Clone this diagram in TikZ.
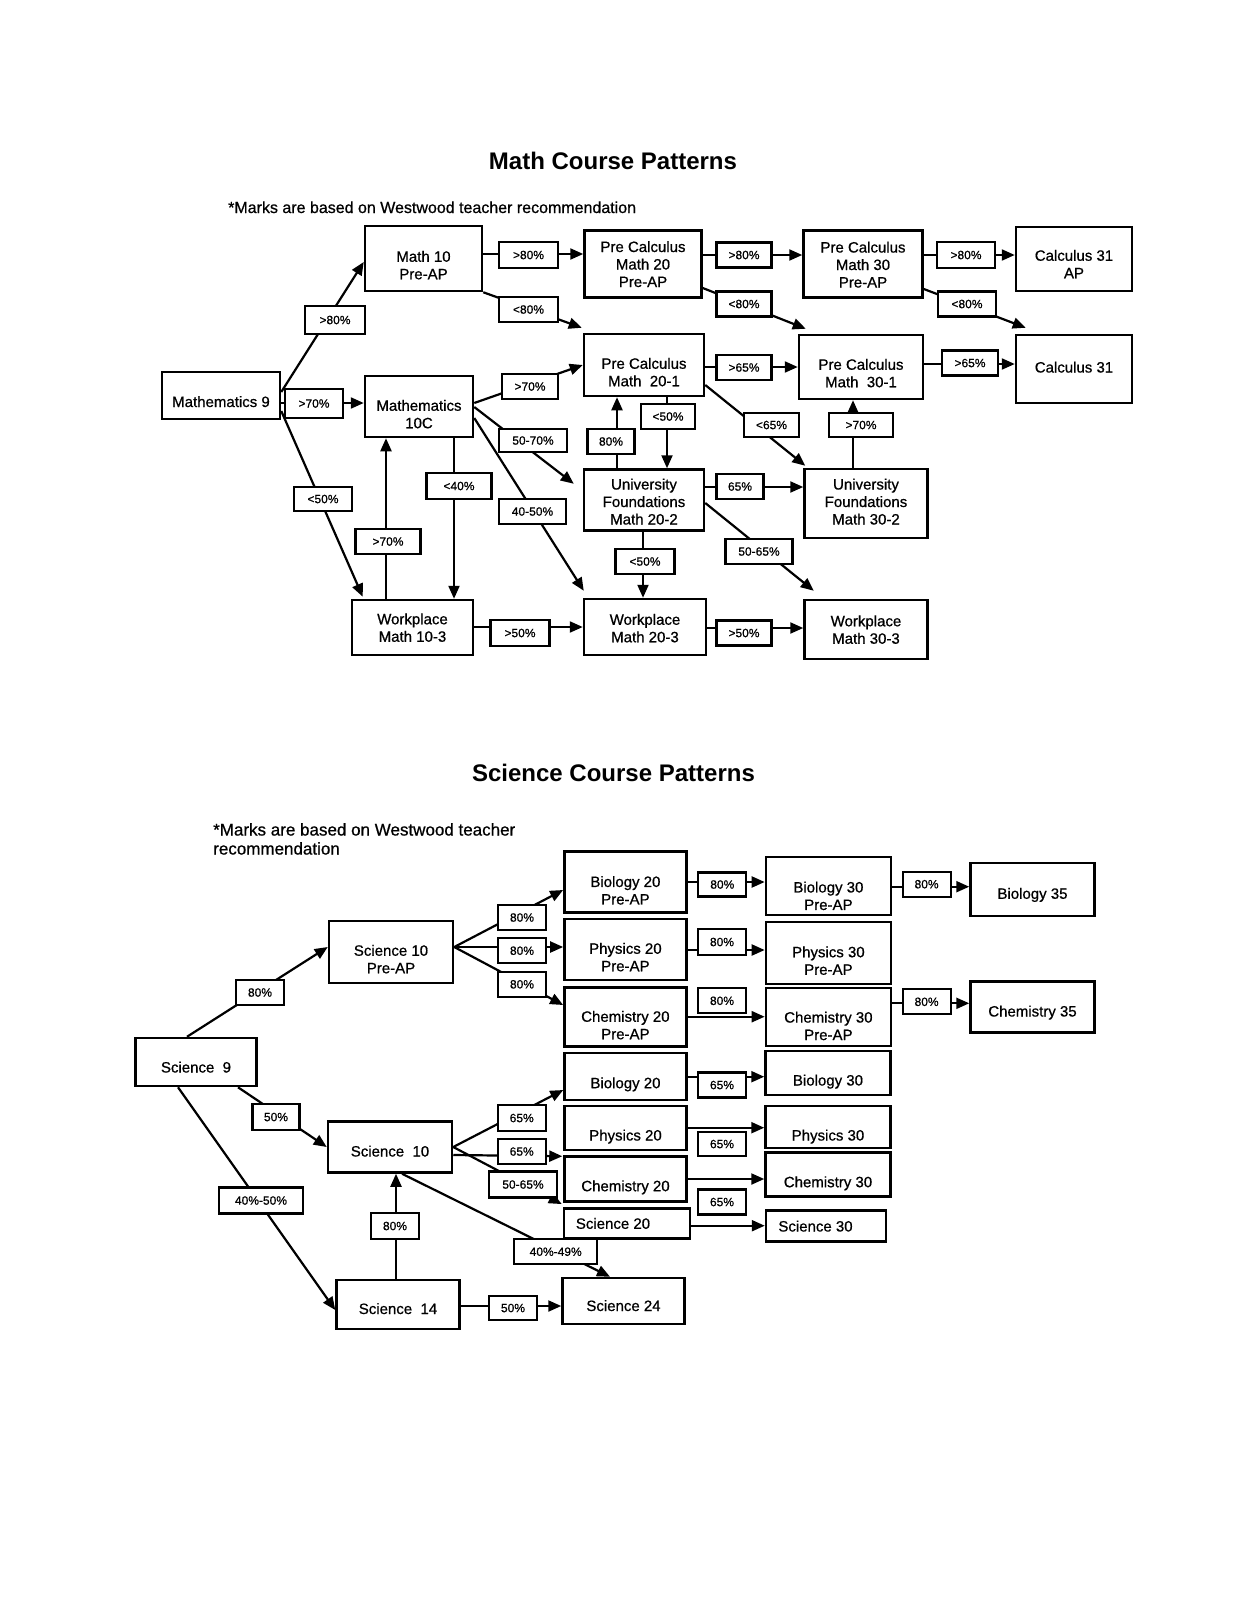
\documentclass[tikz,border=0pt]{standalone}
\usepackage{fontspec}
\setmainfont{Liberation Sans}
\newfontfamily\scanfont{Liberation Sans}[FakeBold=0.7]
\usetikzlibrary{arrows.meta}
\newcommand{\dn}[2]{\raisebox{-#1pt}[\height][\depth]{\begin{tabular}{@{}c@{}}#2\end{tabular}}}
\begin{document}
\begin{tikzpicture}[x=1pt,y=-1pt,
  box/.style={draw, line width=2.5pt, inner sep=0pt, font=\scanfont\fontsize{15}{17.5}\selectfont},
  sz/.style 2 args={minimum width=#1pt, minimum height=#2pt},
  lbl/.style={draw, line width=2.1pt, fill=white, inner sep=0pt, minimum height=25pt, font=\scanfont\fontsize{12}{14}\selectfont},
  conn/.style={line width=2.2pt, -{Triangle[length=13pt,width=11pt]}},
  ttl/.style={font=\fontsize{24}{28}\selectfont\bfseries, inner sep=0pt},
]
\fill[white] (0,0) rectangle (1239,1600);
\useasboundingbox (0,0) rectangle (1239,1600);

% ---------------- Math ----------------
\node[ttl, anchor=base] (mt) at (613,169) {Math Course Patterns};
\node[anchor=base west, inner sep=0pt, font=\scanfont\fontsize{16}{19}\selectfont] (mn) at (228,213) {*Marks are based on Westwood teacher recommendation};

\node[box, sz={118}{47}] (m9) at (221,395.5) {\dn{8}{Mathematics 9}};
\node[box, sz={117}{65}] (m10pa) at (423.5,258.5) {\dn{8.5}{Math 10\\Pre-AP}};
\node[box, sz={108}{61}] (m10c) at (419,406.5) {\dn{9.5}{Mathematics\\10C}};
\node[box, sz={117}{67}] (pc20pa) at (643,264) {\dn{2}{Pre Calculus\\Math 20\\Pre-AP}};
\node[box, sz={119}{67}] (pc30pa) at (863,264) {\dn{2.5}{Pre Calculus\\Math 30\\Pre-AP}};
\node[box, sz={116}{64}] (c31ap) at (1074,259) {\dn{7}{Calculus 31\\AP}};
\node[box, sz={120}{62}] (pc201) at (644,365) {\dn{9}{Pre Calculus\\Math\ \ 20-1}};
\node[box, sz={124}{64}] (pc301) at (861,367) {\dn{8}{Pre Calculus\\Math\ \ 30-1}};
\node[box, sz={116}{68}] (c31) at (1074,369) {\dn{0}{Calculus 31}};
\node[box, sz={120}{61}] (uf202) at (644,500) {\dn{3.5}{University\\Foundations\\Math 20-2}};
\node[box, sz={123}{69}] (uf302) at (866,503.5) {\dn{0}{University\\Foundations\\Math 30-2}};
\node[box, sz={121}{55}] (w103) at (412.5,627.5) {\dn{2}{Workplace\\Math 10-3}};
\node[box, sz={122}{56}] (w203) at (645,627) {\dn{3}{Workplace\\Math 20-3}};
\node[box, sz={123}{59}] (w303) at (866,629.5) {\dn{2}{Workplace\\Math 30-3}};

\draw[conn] (m9.east |- 0,392) -- (m10pa.west |- 0,262);
\draw[conn] (m9.east |- 0,403) -- (m10c.west |- 0,403);
\draw[conn] (m9.east |- 0,411) -- ([shift={(12,-2)}]w103.north west);
\draw[conn] (m10pa.east |- 0,254) -- (pc20pa.west |- 0,254);
\draw[conn] (m10pa.south east) -- ([shift={(-1,-5)}]pc201.north west);
\draw[conn] (m10c.east |- 0,403) -- (pc201.west |- 0,365);
\draw[conn] (m10c.east |- 0,407) -- ([shift={(-9,15.5)}]uf202.north west);
\draw[conn] (m10c.east |- 0,418) -- ([shift={(1,-7)}]w203.north west);
\draw[conn] (w103.north -| 386,0) -- (m10c.south -| 386,0);
\draw[conn] (m10c.south -| 454,0) -- (w103.north -| 454,0);
\draw[conn] (w103.east |- 0,627) -- (w203.west |- 0,627);
\draw[conn] (uf202.north -| 617,0) -- (pc201.south -| 617,0);
\draw[conn] (pc201.south -| 667,0) -- (uf202.north -| 667,0);
\draw[conn] (uf202.south -| 643,0) -- (w203.north -| 643,0);
\draw[conn] (pc20pa.east |- 0,255) -- (pc30pa.west |- 0,255);
\draw[conn] (pc20pa.east |- 0,288) -- ([shift={(8,-5)}]pc301.north west);
\draw[conn] (pc201.east |- 0,367) -- (pc301.west |- 0,367);
\draw[conn] (pc201.east |- 0,385) -- ([shift={(2,-2)}]uf302.north west);
\draw[conn] (uf302.north -| 853,0) -- (pc301.south -| 853,0);
\draw[conn] (uf202.east |- 0,487) -- (uf302.west |- 0,487);
\draw[conn] (uf202.east |- 0,503) -- ([shift={(10.5,-8)}]w303.north west);
\draw[conn] (w203.east |- 0,628) -- (w303.west |- 0,628);
\draw[conn] (pc30pa.east |- 0,255) -- (c31ap.west |- 0,255);
\draw[conn] (pc30pa.east |- 0,289) -- ([shift={(11,-6)}]c31.north west);
\draw[conn] (pc301.east |- 0,364) -- (c31.west |- 0,364);

\node[lbl, minimum width=60pt, minimum height=28pt] (l1) at (335,320) {>80\%};
\node[lbl, minimum width=58pt, minimum height=29pt] (l2) at (314,403.5) {>70\%};
\node[lbl, minimum width=58pt, minimum height=24pt] (l3) at (323,499) {<50\%};
\node[lbl, minimum width=59pt, minimum height=26pt] (l4) at (528.5,255) {>80\%};
\node[lbl, minimum width=59pt] (l5) at (528.5,309.5) {<80\%};
\node[lbl, minimum width=56pt] (l6) at (530,386.5) {>70\%};
\node[lbl, minimum width=68pt, minimum height=23pt] (l7) at (533,440.5) {50-70\%};
\node[lbl, minimum width=67pt] (l8) at (532.5,511.5) {40-50\%};
\node[lbl, minimum width=65pt] (l9) at (388,541.5) {>70\%};
\node[lbl, minimum width=65pt, minimum height=26pt] (l10) at (459,486) {<40\%};
\node[lbl, minimum width=59pt, minimum height=26pt] (l11) at (520,633) {>50\%};
\node[lbl, minimum width=47pt] (l12) at (611,441.5) {80\%};
\node[lbl, minimum width=54pt] (l13) at (668,416.5) {<50\%};
\node[lbl, minimum width=59pt] (l14) at (645,561.5) {<50\%};
\node[lbl, minimum width=55pt] (l15) at (744,255) {>80\%};
\node[lbl, minimum width=55pt] (l16) at (744,304) {<80\%};
\node[lbl, minimum width=55pt] (l17) at (744,367.5) {>65\%};
\node[lbl, minimum width=55pt, minimum height=24pt] (l18) at (771.5,425) {<65\%};
\node[lbl, minimum width=47pt] (l19) at (740,486.5) {65\%};
\node[lbl, minimum width=67pt] (l20) at (759,551.5) {50-65\%};
\node[lbl, minimum width=55pt] (l21) at (744,633) {>50\%};
\node[lbl, minimum width=58pt, minimum height=26pt] (l22) at (966,255) {>80\%};
\node[lbl, minimum width=58pt] (l23) at (967,304) {<80\%};
\node[lbl, minimum width=56pt] (l24) at (970,363) {>65\%};
\node[lbl, minimum width=64pt, minimum height=24pt] (l25) at (861,425) {>70\%};

% ---------------- Science ----------------
\node[ttl, anchor=base] (st) at (613.5,781) {Science Course Patterns};
\node[anchor=north west, align=left, inner sep=0pt, font=\scanfont\fontsize{17}{19}\selectfont] (sn) at (213,823) {*Marks are based on Westwood teacher\\recommendation};

\node[box, sz={121}{48}] (s9) at (196,1062) {\dn{7}{Science\ \ 9}};
\node[box, sz={124}{62}] (s10pa) at (391,952) {\dn{9}{Science 10\\Pre-AP}};
\node[box, sz={124}{51}] (s10) at (390,1147) {\dn{6}{Science\ \ 10}};
\node[box, sz={123}{49}] (s14) at (398,1304.5) {\dn{6}{Science\ \ 14}};
\node[box, sz={122}{46}] (s24) at (623.5,1301) {\dn{6.5}{Science 24}};
\node[box, sz={122}{61}] (bio20pa) at (625.4,882.2) {\dn{10}{Biology 20\\Pre-AP}};
\node[box, sz={122}{61}] (phys20pa) at (625.4,949.5) {\dn{9.5}{Physics 20\\Pre-AP}};
\node[box, sz={122}{59}] (chem20pa) at (625.4,1017) {\dn{10}{Chemistry 20\\Pre-AP}};
\node[box, sz={125}{58}] (bio30pa) at (828.4,886.2) {\dn{11.5}{Biology 30\\Pre-AP}};
\node[box, sz={125}{62}] (phys30pa) at (828.4,952.8) {\dn{9.7}{Physics 30\\Pre-AP}};
\node[box, sz={125}{58}] (chem30pa) at (828.4,1017) {\dn{10.8}{Chemistry 30\\Pre-AP}};
\node[box, sz={124}{53}] (bio35) at (1032.5,889.7) {\dn{5.6}{Biology 35}};
\node[box, sz={124}{51}] (chem35) at (1032.5,1007) {\dn{6}{Chemistry 35}};
\node[box, sz={122}{47}] (bio20) at (625.5,1076.7) {\dn{8}{Biology 20}};
\node[box, sz={122}{44}] (phys20) at (625.5,1128) {\dn{9}{Physics 20}};
\node[box, sz={122}{45}] (chem20) at (625.5,1179) {\dn{8.7}{Chemistry 20}};
\node[box, sz={126}{30}] (sci20) at (627,1223.3) {\dn{2}{Science 20\hspace*{28pt}}};
\node[box, sz={125}{44}] (bio30) at (828,1073) {\dn{9}{Biology 30}};
\node[box, sz={125}{42}] (phys30) at (828,1127) {\dn{10}{Physics 30}};
\node[box, sz={125}{44}] (chem30) at (828,1174.7) {\dn{9}{Chemistry 30}};
\node[box, sz={120}{31}] (sci30) at (826,1226) {\dn{2}{Science 30\hspace*{21pt}}};

\draw[conn] (s9.north -| 187,0) -- (s10pa.west |- 0,947);
\draw[conn] (s9.south -| 238,0) -- (s10.west |- 0,1147);
\draw[conn] (s9.south -| 178,0) -- (s14.west |- 0,1310);
\draw[conn] (s14.north -| 396,0) -- (s10.south -| 396,0);
\draw[conn] (s10.south -| 402,0) -- (s24.north -| 610,0);
\draw[conn] (s14.east |- 0,1306) -- (s24.west |- 0,1306);
\draw[conn] (s10pa.east |- 0,947) -- (bio20pa.west |- 0,890);
\draw[conn] (s10pa.east |- 0,947) -- (phys20pa.west |- 0,947);
\draw[conn] (s10pa.east |- 0,947) -- (chem20pa.west |- 0,1005);
\draw[conn] (s10.east |- 0,1147) -- (bio20.west |- 0,1090);
\draw[conn] (s10.east |- 0,1155) -- ([shift={(-1,5)}]phys20.south west);
\draw[conn] (s10.east |- 0,1147) -- ([shift={(-1,-3)}]sci20.north west);
\draw[conn] (bio20pa.east |- 0,882) -- (bio30pa.west |- 0,882);
\draw[conn] (phys20pa.east |- 0,950) -- (phys30pa.west |- 0,950);
\draw[conn] (chem20pa.east |- 0,1016.7) -- (chem30pa.west |- 0,1016.7);
\draw[conn] (bio30pa.east |- 0,886.7) -- (bio35.west |- 0,886.7);
\draw[conn] (chem30pa.east |- 0,1003.3) -- (chem35.west |- 0,1003.3);
\draw[conn] (bio20.east |- 0,1076.7) -- (bio30.west |- 0,1076.7);
\draw[conn] (phys20.east |- 0,1127.7) -- (phys30.west |- 0,1127.7);
\draw[conn] (chem20.east |- 0,1179) -- (chem30.west |- 0,1179);
\draw[conn] (sci20.east |- 0,1225.7) -- (sci30.west |- 0,1225.7);

\node[lbl, minimum width=48pt] (sl1) at (260,992.5) {80\%};
\node[lbl, minimum width=47pt, minimum height=26pt] (sl2) at (276,1117) {50\%};
\node[lbl, minimum width=84pt, minimum height=26pt] (sl3) at (261,1200.5) {40\%-50\%};
\node[lbl, minimum width=48pt, minimum height=26pt] (sl4) at (395,1226) {80\%};
\node[lbl, minimum width=83pt] (sl5) at (555.7,1251.7) {40\%-49\%};
\node[lbl, minimum width=48pt, minimum height=24pt] (sl6) at (513,1308) {50\%};
\node[lbl, minimum width=48pt] (sl7) at (522,917.5) {80\%};
\node[lbl, minimum width=48pt] (sl8) at (522,950.7) {80\%};
\node[lbl, minimum width=48pt] (sl9) at (522,984.3) {80\%};
\node[lbl, minimum width=48pt, minimum height=26pt] (sl10) at (521.7,1118) {65\%};
\node[lbl, minimum width=48pt] (sl11) at (521.7,1151.5) {65\%};
\node[lbl, minimum width=68pt, minimum height=26pt] (sl12) at (523,1184.5) {50-65\%};
\node[lbl, minimum width=48pt, minimum height=24pt] (sl13) at (722.3,884.5) {80\%};
\node[lbl, minimum width=48pt, minimum height=26pt] (sl14) at (722,942) {80\%};
\node[lbl, minimum width=48pt] (sl15) at (722,1000.8) {80\%};
\node[lbl, minimum width=48pt] (sl16) at (926.6,884.2) {80\%};
\node[lbl, minimum width=48pt] (sl17) at (926.6,1001.8) {80\%};
\node[lbl, minimum width=48pt] (sl18) at (722,1085) {65\%};
\node[lbl, minimum width=48pt, minimum height=24pt] (sl19) at (722,1144) {65\%};
\node[lbl, minimum width=48pt] (sl20) at (722,1202) {65\%};
\end{tikzpicture}
\end{document}
